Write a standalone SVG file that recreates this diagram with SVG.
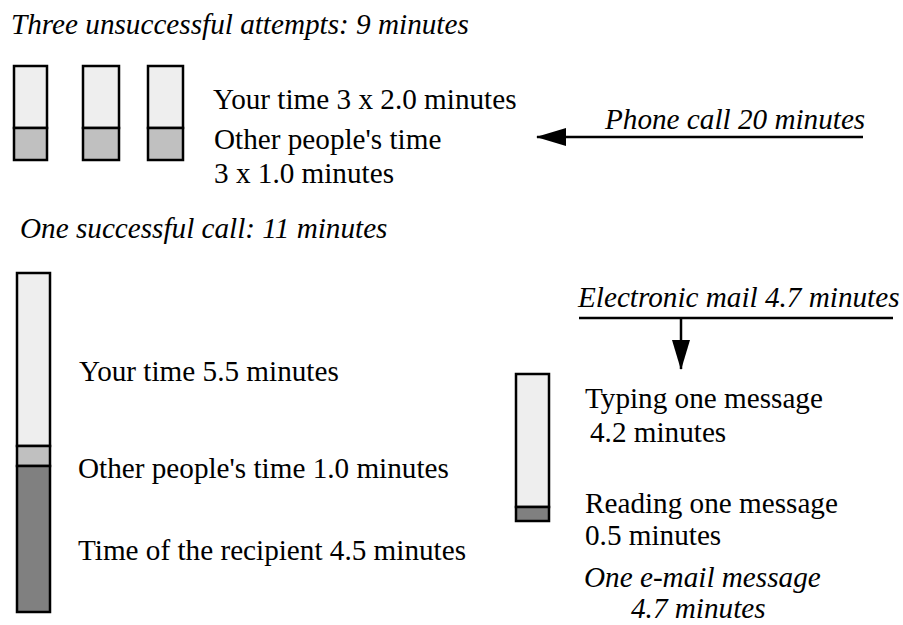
<svg xmlns="http://www.w3.org/2000/svg" width="903" height="625" viewBox="0 0 903 625">
  <style>
    .t { font-family: "Liberation Serif", "Times New Roman", serif; font-size: 29.2px; fill: #000; }
    .i { font-style: italic; }
    .seg { stroke: #000; stroke-width: 2.5; }
    .light { fill: #eeeeee; }
    .mid { fill: #c0c0c0; }
    .dark { fill: #808080; }
    .conn { stroke: #000; stroke-width: 2.5; fill: none; }
  </style>
  <defs>
    <marker id="arrow" viewBox="0 0 30 18" refX="29" refY="9" markerWidth="30" markerHeight="18" markerUnits="userSpaceOnUse" orient="auto">
      <path d="M0,0 L30,9 L0,18 Z" fill="#000"/>
    </marker>
  </defs>

  <rect width="903" height="625" fill="#fff"/>

  <!-- Phone: three unsuccessful attempts -->
  <g id="attempts-title">
    <text class="t i" x="11" y="34">Three unsuccessful attempts: 9 minutes</text>
  </g>
  <g id="attempt-1">
    <rect class="seg light" x="14" y="66" width="33" height="62"/>
    <rect class="seg mid" x="14" y="128" width="33" height="32"/>
  </g>
  <g id="attempt-2">
    <rect class="seg light" x="83" y="66" width="36" height="62"/>
    <rect class="seg mid" x="83" y="128" width="36" height="32"/>
  </g>
  <g id="attempt-3">
    <rect class="seg light" x="148" y="66" width="35" height="62"/>
    <rect class="seg mid" x="148" y="128" width="35" height="32"/>
  </g>
  <g id="attempts-legend">
    <text class="t" x="213" y="109">Your time 3 x 2.0 minutes</text>
    <text class="t" x="214" y="149">Other people's time</text>
    <text class="t" x="214" y="183">3 x 1.0 minutes</text>
  </g>

  <!-- Phone: one successful call -->
  <g id="call-title">
    <text class="t i" x="20" y="238">One successful call: 11 minutes</text>
  </g>
  <g id="call-bar">
    <rect class="seg light" x="17" y="273" width="33" height="173"/>
    <rect class="seg mid" x="17" y="446" width="33" height="20"/>
    <rect class="seg dark" x="17" y="466" width="33" height="146"/>
  </g>
  <g id="call-legend">
    <text class="t" x="79" y="381">Your time 5.5 minutes</text>
    <text class="t" x="78" y="478">Other people's time 1.0 minutes</text>
    <text class="t" x="78" y="560">Time of the recipient 4.5 minutes</text>
  </g>

  <!-- Phone call heading -->
  <g id="phone-label">
    <text class="t i" x="605" y="129">Phone call 20 minutes</text>
  </g>

  <!-- Electronic mail -->
  <g id="mail-label">
    <text class="t i" x="578" y="307">Electronic mail 4.7 minutes</text>
  </g>
  <g id="mail-bar">
    <rect class="seg light" x="516" y="374" width="33" height="133"/>
    <rect class="seg dark" x="516" y="507" width="33" height="14"/>
  </g>
  <g id="mail-legend">
    <text class="t" x="585" y="408">Typing one message</text>
    <text class="t" x="590" y="442">4.2 minutes</text>
    <text class="t" x="585" y="513">Reading one message</text>
    <text class="t" x="585" y="545">0.5 minutes</text>
    <text class="t i" x="584" y="587">One e-mail message</text>
    <text class="t i" x="631" y="618">4.7 minutes</text>
  </g>

  <!-- Connectors -->
  <g id="connectors">
    <path class="conn" d="M863,137 L537,137" marker-end="url(#arrow)"/>
    <path class="conn" d="M579,318 L893,318"/>
    <path class="conn" d="M681,318 L681,369" marker-end="url(#arrow)"/>
  </g>
</svg>
